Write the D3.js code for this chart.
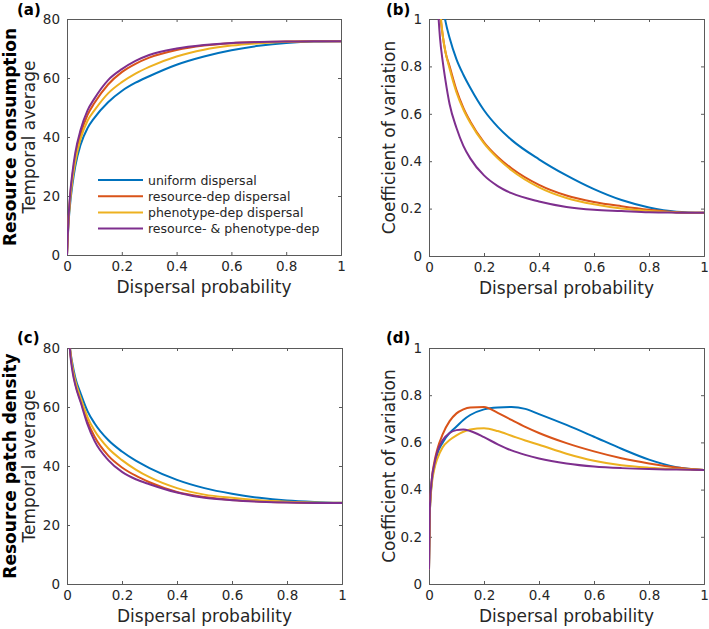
<!DOCTYPE html>
<html><head><meta charset="utf-8">
<script src="https://cdn.jsdelivr.net/npm/d3@7"></script>
<style>
body{margin:0;background:#fff;}
text{font-family:"DejaVu Sans",sans-serif;fill:#262626;}
</style></head>
<body><svg id="chart" width="709" height="629"></svg>
<script>
// ---------- data ----------
const seriesNames = ["uniform dispersal","resource-dep dispersal","phenotype-dep dispersal","resource- & phenotype-dep"];
const seriesColors = ["#0072BD","#D95319","#EDB120","#7E2F8E"];
const xTicks = [0,0.2,0.4,0.6,0.8,1];
const yTicks80 = [0,20,40,60,80];
const yTicks1 = [0,0.2,0.4,0.6,0.8,1];

// (a) resource consumption, temporal average
const xA = [0,0.005,0.01,0.02,0.03,0.05,0.075,0.1,0.15,0.2,0.25,0.3,0.4,0.5,0.6,0.7,0.8,0.9,1.0];
const aUniform  = [0,10,16,24,30,37.5,43,46.5,51.8,55.6,58.4,60.6,64.5,67.3,69.4,70.9,71.9,72.4,72.5];
const aResource = [0,11,18,27,33,41,47.5,51.5,57.8,62,64.8,66.9,69.5,71,71.8,72.2,72.4,72.5,72.5];
const aPhenotype= [0,10.5,17,25.5,31.5,39.5,45.5,49,54.8,58.6,61.5,63.8,67.3,69.6,71,71.8,72.3,72.5,72.5];
const aBoth     = [0,11.5,19,28,34.5,42.5,49,53,59.3,63,65.8,67.8,70,71.2,71.9,72.2,72.4,72.5,72.5];

// (b) resource consumption, coefficient of variation
const xB = [0.02,0.03,0.04,0.05,0.06,0.075,0.1,0.125,0.15,0.2,0.25,0.3,0.4,0.5,0.6,0.7,0.8,0.9,1.0];
const bUniform  = [1.6,1.35,1.18,1.06,0.99,0.92,0.83,0.765,0.71,0.615,0.545,0.49,0.408,0.34,0.282,0.236,0.205,0.187,0.182];
const bResource = [1.45,1.2,1.03,0.93,0.86,0.8,0.7,0.625,0.568,0.48,0.418,0.37,0.3,0.255,0.228,0.21,0.195,0.185,0.182];
const bPhenotype= [1.45,1.22,1.05,0.93,0.86,0.79,0.69,0.618,0.562,0.475,0.412,0.362,0.29,0.245,0.218,0.2,0.19,0.184,0.182];
const bBoth     = [1.35,1.1,0.92,0.82,0.74,0.64,0.54,0.465,0.412,0.34,0.295,0.265,0.23,0.207,0.195,0.19,0.185,0.183,0.182];

// (c) resource patch density, temporal average
const xC = [0,0.005,0.01,0.02,0.03,0.05,0.075,0.1,0.15,0.2,0.25,0.3,0.4,0.5,0.6,0.7,0.8,0.9,1.0];
const cUniform  = [100,88,81,74.5,70,64.5,58.5,54.5,48.8,44.9,41.8,39.3,35.3,32.5,30.6,29.2,28.3,27.8,27.5];
const cResource = [100,88,80.5,73,68,62,55,50,43.5,39.5,36.7,34.5,31.2,29.5,28.5,28,27.7,27.5,27.5];
const cPhenotype= [100,88,81,73.5,69,63,56.5,52,46,42,38.8,36.2,32.5,30.3,29.2,28.4,27.9,27.6,27.5];
const cBoth     = [100,88,80,72,67.5,61.5,54,48.5,42,38,35.5,33.8,31,29.2,28.4,27.9,27.6,27.5,27.5];

// (d) resource patch density, coefficient of variation
const xD = [0,0.003,0.01,0.02,0.03,0.05,0.075,0.1,0.125,0.15,0.2,0.25,0.3,0.35,0.4,0.5,0.6,0.7,0.8,0.9,1.0];
const dUniform  = [0.06,0.3,0.43,0.5,0.55,0.6,0.64,0.667,0.695,0.716,0.74,0.748,0.75,0.742,0.72,0.674,0.624,0.573,0.527,0.495,0.483];
const dResource = [0.06,0.3,0.44,0.52,0.57,0.635,0.69,0.723,0.74,0.748,0.75,0.725,0.695,0.666,0.64,0.597,0.562,0.533,0.511,0.494,0.483];
const dPhenotype= [0.06,0.3,0.42,0.49,0.53,0.58,0.61,0.63,0.645,0.655,0.66,0.648,0.628,0.608,0.59,0.552,0.522,0.503,0.493,0.487,0.483];
const dBoth     = [0.06,0.32,0.44,0.51,0.56,0.61,0.64,0.652,0.655,0.648,0.622,0.592,0.566,0.547,0.532,0.511,0.498,0.491,0.487,0.485,0.483];

// ---------- drawing ----------
const svg = d3.select("#chart");
const defs = svg.append("defs");

const panels = [
  {id:"a", tag:"(a)", left:67, top:19, w:274, h:236, yMax:80, yTicks:yTicks80, xs:xA,
   ys:[aUniform,aResource,aPhenotype,aBoth], ylab:"Temporal average", bold:"Resource consumption", legend:true},
  {id:"b", tag:"(b)", left:429, top:19, w:275, h:237, yMax:1, yTicks:yTicks1, xs:xB,
   ys:[bUniform,bResource,bPhenotype,bBoth], ylab:"Coefficient of variation"},
  {id:"c", tag:"(c)", left:67, top:348, w:275, h:236, yMax:80, yTicks:yTicks80, xs:xC,
   ys:[cUniform,cResource,cPhenotype,cBoth], ylab:"Temporal average", bold:"Resource patch density"},
  {id:"d", tag:"(d)", left:429, top:348, w:275, h:236, yMax:1, yTicks:yTicks1, xs:xD,
   ys:[dUniform,dResource,dPhenotype,dBoth], ylab:"Coefficient of variation"}
];

const axisColor = "#5a5a5a";
const tickLen = 3;

panels.forEach(p => {
  const g = svg.append("g").attr("transform", `translate(${p.left},${p.top})`);
  const x = d3.scaleLinear().domain([0,1]).range([0,p.w]);
  const y = d3.scaleLinear().domain([0,p.yMax]).range([p.h,0]);

  defs.append("clipPath").attr("id","clip"+p.id)
    .append("rect").attr("x",0).attr("y",0).attr("width",p.w).attr("height",p.h);

  const xAxis = d3.axisBottom(x).tickValues(xTicks).tickSize(-tickLen).tickPadding(6).tickFormat(d=>String(d));
  const xAxisTop = d3.axisTop(x).tickValues(xTicks).tickSize(-tickLen).tickFormat("");
  const yAxis = d3.axisLeft(y).tickValues(p.yTicks).tickSize(-tickLen).tickPadding(7).tickFormat(d=>String(d));
  const yAxisRight = d3.axisRight(y).tickValues(p.yTicks).tickSize(-tickLen).tickFormat("");

  const gx = g.append("g").attr("transform",`translate(0,${p.h})`).call(xAxis);
  const gxt = g.append("g").call(xAxisTop);
  const gy = g.append("g").call(yAxis);
  const gyr = g.append("g").attr("transform",`translate(${p.w},0)`).call(yAxisRight);
  [gx,gxt,gy,gyr].forEach(a=>{
    a.select(".domain").attr("stroke",axisColor).attr("stroke-width",1);
    a.selectAll(".tick line").attr("stroke",axisColor);
    a.selectAll(".tick text").attr("font-size",13.5).attr("fill","#262626")
      .style("font-family","DejaVu Sans");
  });

  const line = d3.line().x((d,i)=>x(p.xs[i])).y(d=>y(d)).curve(d3.curveMonotoneX);
  const lg = g.append("g").attr("clip-path",`url(#clip${p.id})`);
  p.ys.forEach((arr,k)=>{
    lg.append("path").datum(arr).attr("d",line).attr("fill","none")
      .attr("stroke",seriesColors[k]).attr("stroke-width",2).attr("stroke-linejoin","round");
  });

  g.append("text").attr("x",p.w/2).attr("y",p.h+37.5).attr("text-anchor","middle")
    .attr("font-size",17).text("Dispersal probability");
  g.append("text").attr("transform",`translate(${p.bold?-32:-34},${p.h/2}) rotate(-90)`)
    .attr("text-anchor","middle").attr("font-size",17).text(p.ylab);
  if (p.bold) {
    g.append("text").attr("transform",`translate(-51,${p.h/2}) rotate(-90)`)
      .attr("text-anchor","middle").attr("font-size",17).attr("font-weight","bold")
      .style("fill","#000").text(p.bold);
  }
  g.append("text").attr("x", p.left<200 ? -50 : -43).attr("y", p.id==="a"||p.id==="b" ? -4 : -5)
    .attr("font-size",15).attr("font-weight","bold").style("fill","#000").text(p.tag);

  if (p.legend) {
    const leg = g.append("g").attr("transform","translate(31,161)");
    seriesNames.forEach((nm,k)=>{
      const row = leg.append("g").attr("transform",`translate(0,${k*16.2})`);
      row.append("line").attr("x1",0).attr("x2",45).attr("y1",0).attr("y2",0)
        .attr("stroke",seriesColors[k]).attr("stroke-width",2);
      row.append("text").attr("x",50).attr("y",4.5).attr("font-size",12.5).text(nm);
    });
  }
});
</script></body></html>
